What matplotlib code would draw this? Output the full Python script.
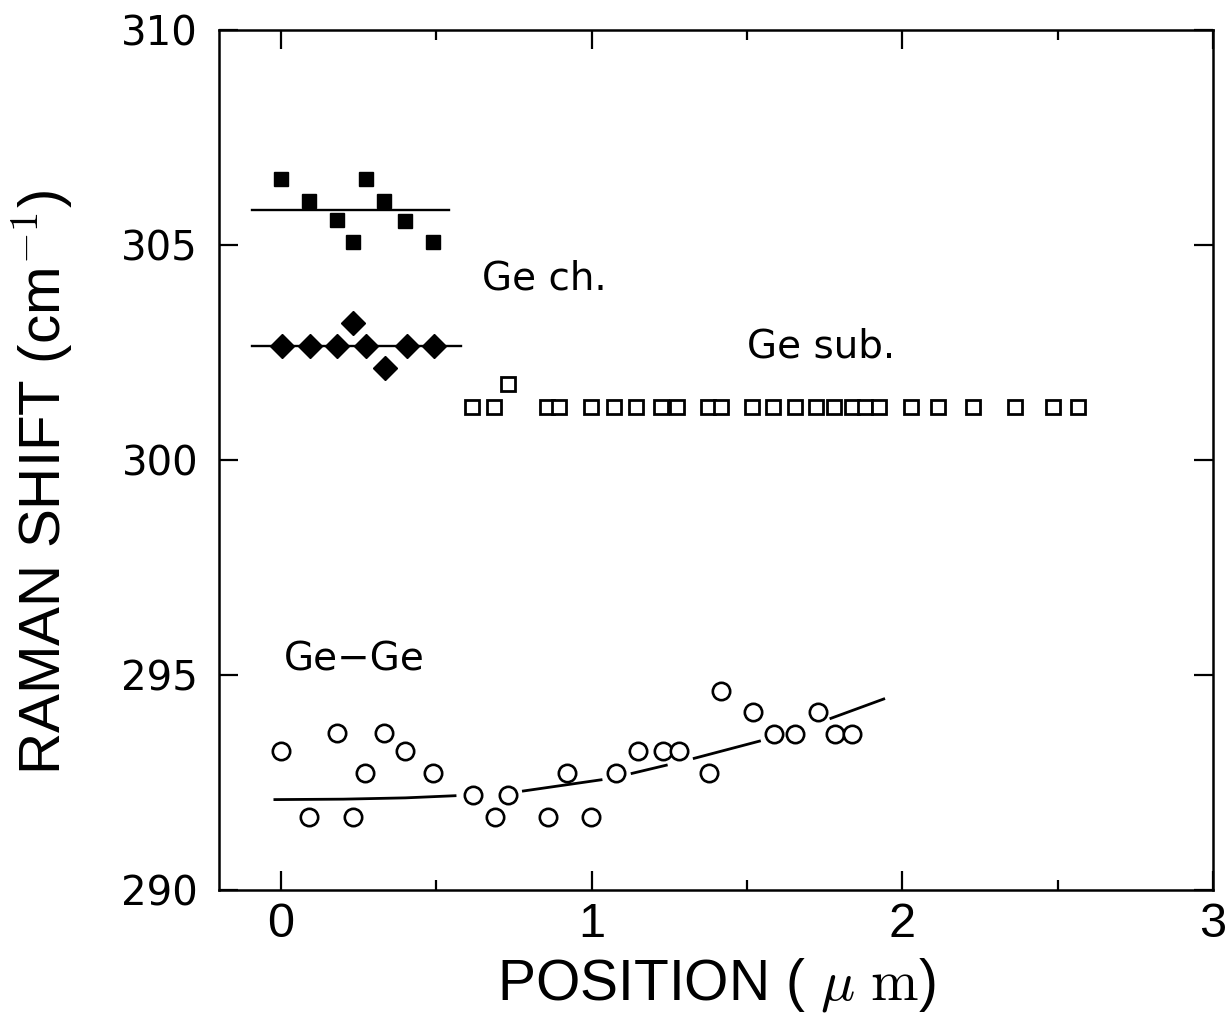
#!/usr/bin/env python3
"""Raman shift vs position: Ge channel, Ge substrate and Ge-Ge modes."""

import numpy as np
import matplotlib
matplotlib.use("Agg")
import matplotlib.pyplot as plt

plt.rcParams["mathtext.fontset"] = "cm"

# Ge ch. (filled squares) and its mean line
ch_x = [0.00, 0.09, 0.18, 0.232, 0.273, 0.332, 0.40, 0.49]
ch_y = [306.54, 306.02, 305.57, 305.07, 306.54, 306.02, 305.55, 305.07]
ch_line_x = [-0.094, 0.54]
ch_line_y = [305.82, 305.82]

# diamonds and their mean line
dia_x = [0.004, 0.092, 0.18, 0.232, 0.273, 0.334, 0.404, 0.493]
dia_y = [302.65, 302.65, 302.65, 303.19, 302.65, 302.15, 302.65, 302.65]
dia_line_x = [-0.094, 0.58]
dia_line_y = [302.65, 302.65]

# Ge sub. (open squares)
sub_x = [0.616, 0.686, 0.729, 0.855, 0.895, 0.997, 1.072, 1.142, 1.223, 1.276,
         1.373, 1.416, 1.515, 1.582, 1.653, 1.722, 1.78, 1.837, 1.88, 1.926,
         2.028, 2.114, 2.226, 2.361, 2.484, 2.565]
sub_y = [301.24, 301.24, 301.76, 301.24, 301.24, 301.24, 301.24, 301.24, 301.24,
         301.24, 301.24, 301.24, 301.24, 301.24, 301.24, 301.24, 301.24, 301.24,
         301.24, 301.24, 301.24, 301.24, 301.24, 301.24, 301.24, 301.24]

# Ge-Ge (open circles)
gege_x = [0.001, 0.09, 0.179, 0.23, 0.27, 0.33, 0.40, 0.49, 0.619, 0.689, 0.731,
          0.86, 0.919, 0.999, 1.078, 1.148, 1.228, 1.28, 1.376, 1.416, 1.518,
          1.586, 1.654, 1.727, 1.784, 1.838]
gege_y = [293.23, 291.69, 293.64, 291.69, 292.73, 293.64, 293.23, 292.73, 292.21,
          291.69, 292.21, 291.69, 292.73, 291.69, 292.73, 293.23, 293.23, 293.23,
          292.73, 294.63, 294.13, 293.62, 293.62, 294.13, 293.62, 293.62]

# Ge-Ge guide curve, broken into pieces (nan = gap)
curve_x = [-0.02, 0.2, 0.4, 0.56, np.nan, 0.78, 1.03, np.nan, 1.13, 1.24, np.nan,
           1.33, 1.54, np.nan, 1.77, 1.94]
curve_y = [292.10, 292.11, 292.14, 292.19, np.nan, 292.30, 292.56, np.nan, 292.71,
           292.90, np.nan, 293.06, 293.46, np.nan, 293.99, 294.44]

x_ticks = [0, 1, 2, 3]
y_ticks = [290, 295, 300, 305, 310]

NARROW = ["Liberation Sans Narrow", "Liberation Sans", "DejaVu Sans"]

fig = plt.figure(figsize=(12.26, 10.17), dpi=100)
ax = fig.add_axes([0.1786, 0.125, 0.8108, 0.8455])

ax.plot(ch_line_x, ch_line_y, color="black", lw=1.7)
ax.plot(ch_x, ch_y, ls="none", marker="s", ms=10, color="black")
ax.plot(dia_line_x, dia_line_y, color="black", lw=1.7)
ax.plot(dia_x, dia_y, ls="none", marker="D", ms=12, color="black")
ax.plot(sub_x, sub_y, ls="none", marker="s", ms=10.5, mfc="white", mec="black", mew=2.0)
ax.plot(curve_x, curve_y, color="black", lw=2.0)
ax.plot(gege_x, gege_y, ls="none", marker="o", ms=12.5, mfc="white", mec="black", mew=1.9)

ax.text(0.647, 303.97, "Ge ch.", fontsize=28, ha="left", va="baseline")
ax.text(1.50, 302.39, "Ge sub.", fontsize=28, ha="left", va="baseline")
ax.text(0.01, 295.10, "Ge\u2212Ge", fontsize=28, ha="left", va="baseline")

ax.set_xlim(-0.2, 3)
ax.set_ylim(290, 310)
ax.set_xticks(x_ticks)
ax.set_xticks([0.5, 1.5, 2.5], minor=True)
ax.set_yticks(y_ticks)
ax.set_xticklabels([str(t) for t in x_ticks], family=NARROW, fontsize=35)
ax.set_yticklabels([str(t) for t in y_ticks], family="DejaVu Sans", fontsize=29)

ax.tick_params(which="both", direction="in", top=True, right=True, width=1.6)
ax.tick_params(which="major", length=14)
ax.tick_params(which="minor", length=7)
ax.tick_params(axis="y", pad=15)
ax.tick_params(axis="x", pad=9)
for s in ax.spines.values():
    s.set_linewidth(1.8)

fig.text(42 / 1226, 1 - 482 / 1017, "RAMAN SHIFT (cm$^{-1}$)", rotation=90,
         ha="center", va="center", fontsize=42, family="Liberation Sans")
fig.text(716 / 1226, 1 - 985 / 1017, "POSITION ( $\\mu\\ \\mathrm{m}$)",
         ha="center", va="center", fontsize=41, family=NARROW)

fig.savefig("out.png", dpi=100)
